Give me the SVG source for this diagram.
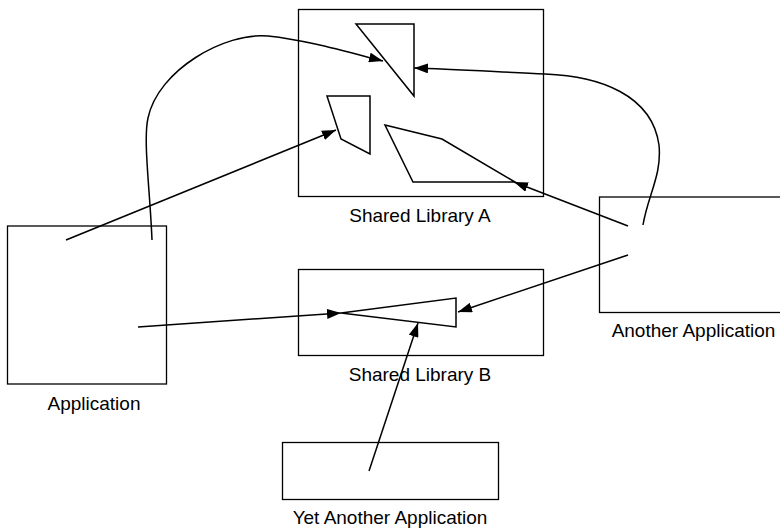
<svg xmlns="http://www.w3.org/2000/svg" width="780" height="529" viewBox="0 0 780 529">
<defs>
<marker id="arr" viewBox="0 0 14 10" refX="14" refY="5" markerWidth="14" markerHeight="10" markerUnits="userSpaceOnUse" orient="auto">
<path d="M0,0 L14,5 L0,10 Z" fill="#000"/>
</marker>
</defs>
<style>
.box{fill:#fff;stroke:#000;stroke-width:1.3}
.shape{fill:none;stroke:#000;stroke-width:1.5;stroke-linejoin:miter}
.lbl{font-family:"Liberation Sans",Arial,Helvetica,sans-serif;font-size:19px;fill:#000;text-anchor:middle}
.conn{fill:none;stroke:#000;stroke-width:1.5;marker-end:url(#arr)}
</style>
<rect width="780" height="529" fill="#fff"/>
<g id="shared-library-a">
<rect class="box" x="298.5" y="9.5" width="245" height="187"/>
<polygon class="shape" points="356,24 414,24 414,96"/>
<polygon class="shape" points="327,96 370,96 370,154 341,139"/>
<polygon class="shape" points="385,125 442,139 515,182 413,182"/>
<text class="lbl" x="420" y="221.5">Shared Library A</text>
</g>
<g id="application">
<rect class="box" x="7.5" y="226" width="159" height="158"/>
<text class="lbl" x="94" y="410">Application</text>
</g>
<g id="another-application">
<rect class="box" x="599.5" y="197" width="190" height="115.5"/>
<text class="lbl" x="693.5" y="336.5">Another Application</text>
</g>
<g id="shared-library-b">
<rect class="box" x="298.5" y="269.5" width="245" height="86"/>
<polygon class="shape" points="341,313 456,298 456,327"/>
<text class="lbl" x="420" y="381">Shared Library B</text>
</g>
<g id="yet-another-application">
<rect class="box" x="282.5" y="442.5" width="216" height="57"/>
<text class="lbl" x="390" y="523.5">Yet Another Application</text>
</g>
<g id="connectors">
<path class="conn" d="M66,240 L336,130"/>
<path class="conn" d="M152,240 C150,190 143,140 148,118 C158,70 225,32 268,36 C305,40 340,50 383,61"/>
<path class="conn" d="M643,225 C648,195 662,175 659,145 C652,95 600,76 545,74 C500,72 450,69 414,68"/>
<path class="conn" d="M628,226 L514,182"/>
<path class="conn" d="M628,255 L458,312"/>
<path class="conn" d="M138,327 L341,313"/>
<path class="conn" d="M369,471 L418,323"/>
</g>
</svg>
